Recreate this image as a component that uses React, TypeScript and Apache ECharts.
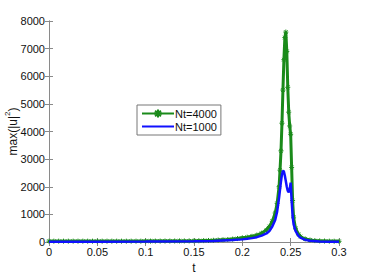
import React, { useEffect, useRef } from "react";
import * as echarts from "echarts";

const xTicks = [0, 0.05, 0.1, 0.15, 0.2, 0.25, 0.3];
const yTicks = [0, 1000, 2000, 3000, 4000, 5000, 6000, 7000, 8000];

const tGreen = [
  0, 0.005, 0.01, 0.015, 0.02, 0.025, 0.03, 0.035, 0.04, 0.045, 0.05, 0.055, 0.06, 0.065, 0.07, 0.075, 0.08,
  0.085, 0.09, 0.095, 0.1, 0.105, 0.11, 0.115, 0.12, 0.125, 0.13, 0.135, 0.14, 0.145, 0.15, 0.155, 0.16,
  0.165, 0.17, 0.175, 0.18, 0.185, 0.19, 0.195, 0.2, 0.205, 0.21, 0.215, 0.22, 0.225, 0.228, 0.231, 0.234,
  0.236, 0.238, 0.239, 0.24, 0.241, 0.242, 0.243, 0.244, 0.245, 0.246, 0.247, 0.248, 0.249, 0.25, 0.251,
  0.252, 0.253, 0.255, 0.258, 0.26, 0.265, 0.27, 0.275, 0.28, 0.285, 0.29, 0.295, 0.3,
];
const vGreen = [
  30, 30, 30, 30, 30, 30, 30, 30, 30, 30, 30, 30, 30, 30, 30, 30, 30,
  30, 30, 30, 32, 32, 33, 33, 34, 35, 36, 37, 38, 40, 42, 45, 50,
  55, 62, 70, 80, 90, 105, 125, 150, 175, 205, 250, 320, 440, 560, 750, 1050,
  1400, 2000, 2600, 3300, 4300, 5500, 6600, 7400, 7600, 6900, 5600, 4700, 4200, 3900, 2700,
  1500, 900, 500, 280, 200, 110, 70, 50, 40, 35, 30, 28, 25,
];

const tBlue = [
  0, 0.05, 0.1, 0.15, 0.17, 0.18, 0.19, 0.2, 0.205, 0.21, 0.215, 0.22, 0.225, 0.228, 0.231, 0.234,
  0.236, 0.238, 0.24, 0.241, 0.242, 0.243, 0.244, 0.245, 0.246, 0.247, 0.248, 0.249, 0.25, 0.251,
  0.252, 0.253, 0.255, 0.258, 0.26, 0.265, 0.27, 0.28, 0.29, 0.3,
];
const vBlue = [
  10, 12, 15, 25, 40, 55, 70, 95, 115, 140, 175, 230, 310, 400, 560, 800,
  1100, 1600, 2200, 2450, 2580, 2550, 2400, 2200, 2000, 1850, 1800, 1900, 2150, 1500,
  950, 650, 400, 220, 160, 80, 45, 20, 12, 10,
];

const seriesNames = ["Nt=4000", "Nt=1000"];

const STAR = "path://M0,-5L0,5M-5,0L5,0M-3.6,-3.6L3.6,3.6M-3.6,3.6L3.6,-3.6";

export default function App() {
  const ref = useRef<HTMLDivElement>(null);
  useEffect(() => {
    const chart = echarts.init(ref.current!, null, { renderer: "svg" });
    const font = "Liberation Sans";
    const axisColor = "#8a8a8a";
    const labelStyle = { color: "#111", fontSize: 11, fontFamily: font };
    chart.setOption({
      animation: false,
      backgroundColor: "#fff",
      grid: { left: 49, right: 35, top: 21, bottom: 33, containLabel: false, outerBoundsMode: "none" },
      legend: {
        orient: "vertical",
        left: 137,
        top: 105,
        data: [
          { name: seriesNames[0] },
          { name: seriesNames[1], itemStyle: { opacity: 0 } },
        ],
        backgroundColor: "#fff",
        borderColor: "#777",
        borderWidth: 1,
        padding: [3, 4, 3, 4],
        itemGap: 2,
        itemWidth: 32,
        itemHeight: 10,
        textStyle: { color: "#111", fontSize: 11, fontFamily: font, padding: [0, 0, 0, -4] },
      },
      xAxis: [
        {
          type: "value",
          min: 0,
          max: 0.3,
          interval: 0.05,
          name: "t",
          nameLocation: "middle",
          nameGap: 20,
          nameMoveOverlap: false,
          nameTextStyle: { color: "#111", fontSize: 12, fontFamily: font },
          axisLine: { show: true, lineStyle: { color: axisColor } },
          axisTick: { inside: true, length: 4, lineStyle: { color: axisColor } },
          axisLabel: { ...labelStyle, margin: 4, formatter: (v: number) => (xTicks.includes(+v.toFixed(2)) ? String(+v.toFixed(2)) : "") },
          splitLine: { show: false },
        },
        {
          type: "value",
          position: "top",
          min: 0,
          max: 0.3,
          interval: 0.05,
          axisLine: { show: true, lineStyle: { color: axisColor } },
          axisTick: { inside: true, length: 4, lineStyle: { color: axisColor } },
          axisLabel: { show: false },
          splitLine: { show: false },
        },
      ],
      yAxis: [
        {
          type: "value",
          min: 0,
          max: 8000,
          interval: 1000,
          name: "{a|max(|u|}{s|2}{a|)}",
          nameLocation: "middle",
          nameGap: 30,
          nameMoveOverlap: false,
          nameRotate: 90,
          nameTextStyle: {
            rich: {
              a: { color: "#111", fontSize: 12, fontFamily: font, lineHeight: 16, verticalAlign: "bottom" },
              s: { color: "#111", fontSize: 8, fontFamily: font, lineHeight: 16, verticalAlign: "top" },
            },
          },
          axisLine: { show: true, lineStyle: { color: axisColor } },
          axisTick: { inside: true, length: 4, lineStyle: { color: axisColor } },
          axisLabel: { ...labelStyle, margin: 4, formatter: (v: number) => (yTicks.includes(v) ? String(v) : "") },
          splitLine: { show: false },
        },
        {
          type: "value",
          position: "right",
          min: 0,
          max: 8000,
          interval: 1000,
          axisLine: { show: true, lineStyle: { color: axisColor } },
          axisTick: { inside: true, length: 4, lineStyle: { color: axisColor } },
          axisLabel: { show: false },
          splitLine: { show: false },
        },
      ],
      series: [
        {
          name: seriesNames[0],
          type: "line",
          data: tGreen.map((t, i) => [t, vGreen[i]]),
          showAllSymbol: true,
          symbol: STAR,
          symbolSize: 5,
          itemStyle: { color: "#1a8a1a", borderColor: "#1a8a1a", borderWidth: 1 },
          lineStyle: { color: "#1a8a1a", width: 3 },
          z: 2,
        },
        {
          name: seriesNames[1],
          type: "line",
          data: tBlue.map((t, i) => [t, vBlue[i]]),
          showSymbol: false,
          symbol: "none",
          itemStyle: { color: "#1010ff" },
          lineStyle: { color: "#1010ff", width: 2.5 },
          z: 3,
        },
      ],
    });
    return () => chart.dispose();
  }, []);
  return <div ref={ref} style={{ position: "fixed", left: 0, top: 0, width: 374, height: 275 }} />;
}
